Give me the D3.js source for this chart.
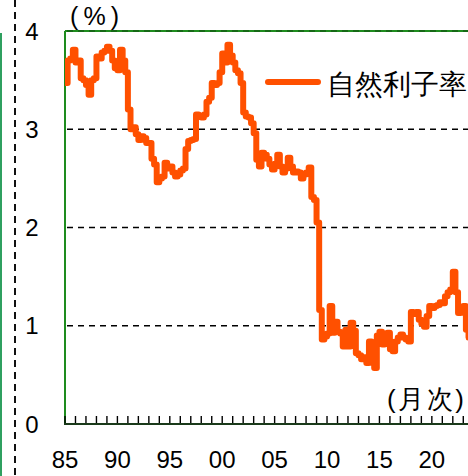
<!DOCTYPE html>
<html><head><meta charset="utf-8">
<script src="https://cdn.jsdelivr.net/npm/d3@7"></script>
<style>body{margin:0;background:#fff}svg{display:block}text{font-family:"Liberation Sans",Arial,sans-serif}</style>
</head><body><svg id="c" width="468" height="476"></svg>
<script>
// Quarterly estimates (1985Q1 onward), percent
const startYear = 1985;
const values = [
 3.47,3.70,3.72,3.81, 3.68,3.70,3.52,3.50, 3.45,3.35,3.50,3.52, 3.74,3.72,3.78,3.80,
 3.84,3.80,3.70,3.62, 3.60,3.81,3.70,3.58, 3.20,3.00,3.02,2.95, 2.89,2.93,2.91,2.86,
 2.86,2.70,2.64,2.46, 2.50,2.52,2.66,2.60, 2.62,2.56,2.52,2.54, 2.58,2.60,2.80,2.88,
 2.89,2.90,3.15,3.13, 3.12,3.15,3.28,3.32, 3.47,3.45,3.47,3.58, 3.77,3.68,3.86,3.75,
 3.68,3.60,3.57,3.47, 3.17,3.13,3.12,3.06, 2.96,2.69,2.62,2.76, 2.74,2.70,2.64,2.59,
 2.65,2.74,2.62,2.56, 2.60,2.71,2.62,2.56, 2.57,2.56,2.50,2.54, 2.56,2.61,2.31,2.28,
 2.05,1.16,0.86,0.89, 0.92,1.20,0.93,1.04, 0.94,0.92,0.79,0.96, 0.79,1.03,0.95,0.72,
 0.70,0.66,0.68,0.62, 0.84,0.80,0.57,0.90, 0.94,0.81,0.90,0.93, 0.76,0.74,0.84,0.88,
 0.91,0.88,0.86,0.84, 1.14,1.12,1.14,1.06, 1.02,0.99,1.10,1.20, 1.18,1.20,1.21,1.24,
 1.23,1.30,1.34,1.37, 1.55,1.34,1.13,1.18, 1.20,0.96,0.88
];
const yTicks = [0,1,2,3,4];
const xTickYears = [1985,1990,1995,2000,2005,2010,2015,2020];
const xTickLabels = ["85","90","95","00","05","10","15","20"];
const seriesName = "自然利子率";
const unitLabel = "(%)";
const freqLabel = "(月次)";

const svg = d3.select("#c");
const L = 65, T = 31, B = 424, R = 468;
const x = d3.scaleLinear().domain([1985, 2023.45]).range([L, R]);
const y = d3.scaleLinear().domain([0, 4]).range([B, T]);
const green = "#1e8c1e";
const cjk = "'Noto Sans CJK JP',sans-serif";

// far-left decorations
svg.append("line").attr("x1",1).attr("x2",1).attr("y1",33).attr("y2",476)
  .attr("stroke","#2fa060").attr("stroke-width",2);
svg.append("line").attr("x1",15).attr("x2",15).attr("y1",0).attr("y2",476)
  .attr("stroke","#111").attr("stroke-width",2).attr("stroke-dasharray","7,5");

// frame
svg.append("line").attr("x1",L).attr("x2",R).attr("y1",T).attr("y2",T)
  .attr("stroke",green).attr("stroke-width",2);
svg.append("line").attr("x1",L).attr("x2",L).attr("y1",T).attr("y2",B)
  .attr("stroke",green).attr("stroke-width",2);

// gridlines
svg.append("g").selectAll("line").data(yTicks.filter(d=>d>0)).join("line")
  .attr("x1",L+2).attr("x2",R).attr("y1",d=>y(d)).attr("y2",d=>y(d))
  .attr("stroke","#000").attr("stroke-width",d=>d===4?1:1.6)
  .attr("stroke-dasharray","6,5").attr("opacity",d=>d===4?0.5:1);

// y labels
svg.append("g").selectAll("text").data(yTicks).join("text")
  .attr("x",32).attr("y",d=>y(d)).attr("dy","0.36em").attr("text-anchor","middle")
  .attr("font-size",24).attr("fill","#000").text(d=>d);

// x axis
const years = d3.range(1985, 2024);
svg.append("g").selectAll("line").data(years).join("line")
  .attr("x1",d=>x(d)).attr("x2",d=>x(d)).attr("y1",B).attr("y2",B-8)
  .attr("stroke","#000").attr("stroke-width",1.4);
svg.append("line").attr("x1",L-1).attr("x2",R).attr("y1",B).attr("y2",B)
  .attr("stroke","#1a3a1a").attr("stroke-width",2.2);
svg.append("g").selectAll("text").data(xTickYears).join("text")
  .attr("x",d=>x(d)).attr("y",468).attr("text-anchor","middle")
  .attr("font-size",24).attr("fill","#000").text((d,i)=>xTickLabels[i]);

// series
const pts = values.map((v,i)=>({t: startYear + i/4, v}));
const line = d3.line().x(d=>x(d.t)).y(d=>y(d.v)).curve(d3.curveStepAfter);
svg.append("clipPath").attr("id","cp").append("rect")
  .attr("x",L).attr("y",0).attr("width",R-L).attr("height",B);
svg.append("path").datum(pts).attr("d",line).attr("fill","none")
  .attr("stroke","#ff5000").attr("stroke-width",6)
  .attr("stroke-linejoin","round").attr("stroke-linecap","round")
  .attr("clip-path","url(#cp)");

// legend
svg.append("line").attr("x1",268).attr("x2",318).attr("y1",82).attr("y2",82)
  .attr("stroke","#ff5000").attr("stroke-width",6).attr("stroke-linecap","round");
svg.append("text").attr("x",327).attr("y",94).attr("font-size",28)
  .attr("font-family",cjk).attr("fill","#000").text(seriesName);

// unit labels
svg.append("text").attr("x",70).attr("y",25).attr("font-size",25)
  .attr("textLength",49).attr("lengthAdjust","spacing")
  .attr("font-family",cjk).attr("fill","#000").text(unitLabel);
svg.append("text").attr("x",387).attr("y",408).attr("font-size",26)
  .attr("textLength",77).attr("lengthAdjust","spacing")
  .attr("font-family",cjk).attr("fill","#000").text(freqLabel);
</script></body></html>
